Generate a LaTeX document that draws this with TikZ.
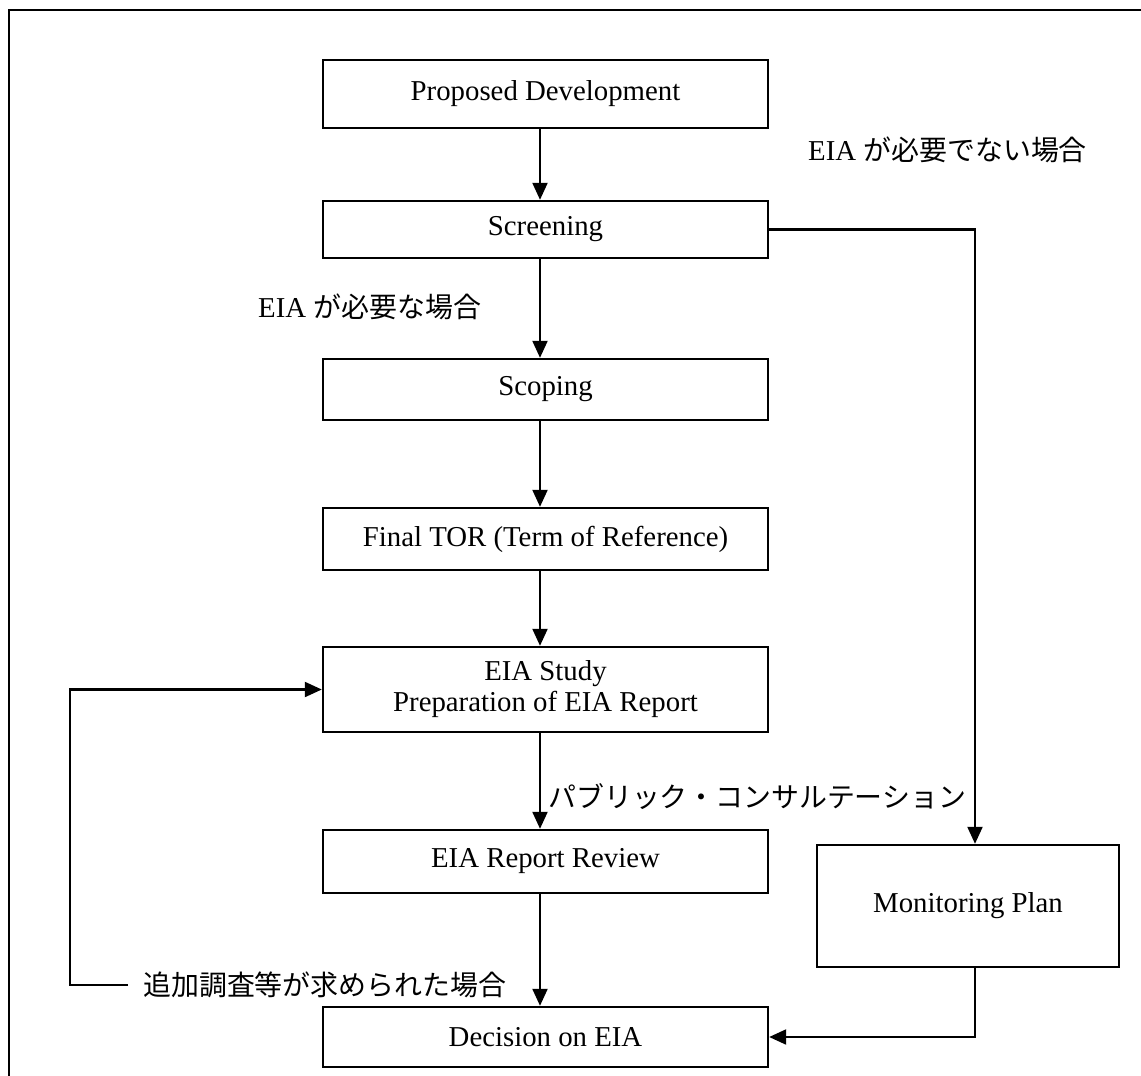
\documentclass[tikz,border=0pt]{standalone}
\usepackage{fontspec}
\setmainfont{Liberation Serif}
\newfontfamily\jp{Noto Sans CJK JP}[Scale=0.97]
\usetikzlibrary{arrows.meta}
\begin{document}
\begin{tikzpicture}[x=1pt,y=-1pt,
  every node/.style={font=\fontsize{28.8}{31}\selectfont, inner sep=0pt},
  stage/.style={draw, line width=2.4pt, minimum width=445pt, align=center},
  flow/.style={-{Triangle[length=17pt,width=15pt]}, line width=2.2pt},
  note/.style={anchor=west}]
\useasboundingbox (0,0) rectangle (1141,1076);
% outer frame
\draw[line width=2.4pt] (9,10) rectangle (1160,1100);

% columns of the connectors
\coordinate (ax) at (540,0);
\coordinate (mx) at (975,0);
\coordinate (lx) at (85,0);

% stages
\node[stage, minimum height=68pt] (pd)  at (545.5,94)    {Proposed Development};
\node[stage, minimum height=57pt] (scr) at (545.5,229.5) {Screening};
\node[stage, minimum height=61pt] (scp) at (545.5,389.5) {Scoping};
\node[stage, minimum height=62pt] (tor) at (545.5,539)   {Final TOR (Term of Reference)};
\node[stage, minimum height=85pt] (eia) at (545.5,689.5) {EIA Study\\Preparation of EIA Report};
\node[stage, minimum height=63pt] (rev) at (545.5,861.5) {EIA Report Review};
\node[stage, minimum height=60pt] (dec) at (545.5,1037)  {Decision on EIA};
\node[stage, minimum width=302pt, minimum height=122pt] (mon) at (968,906) {Monitoring Plan};

% labels
\node[note] (nreq) at (808,150) {EIA {\jp が必要でない場合}};
\node[note] (req)  at (258,307) {EIA {\jp が必要な場合}};
\node[note] (pc)   at (548,797) {\jp パブリック・コンサルテーション};
\node[note] (fb)   at (143,985) {\jp 追加調査等が求められた場合};

% main flow
\draw[flow] (pd.south -| ax)  -- (scr.north -| ax);
\draw[flow] (scr.south -| ax) -- (scp.north -| ax);
\draw[flow] (scp.south -| ax) -- (tor.north -| ax);
\draw[flow] (tor.south -| ax) -- (eia.north -| ax);
\draw[flow] (eia.south -| ax) -- (rev.north -| ax);
\draw[flow] (rev.south -| ax) -- (dec.north -| ax);

% branch when no EIA is needed
\draw[flow] (scr.east) -- (scr.east -| mx) -- (mon.north -| mx);
\draw[flow] (mon.south -| mx) |- (dec.east);

% loop back for additional study
\draw[flow] ([xshift=-15pt]fb.west) -- ([xshift=-15pt]fb.west -| lx) |- (eia.west);
\end{tikzpicture}
\end{document}
